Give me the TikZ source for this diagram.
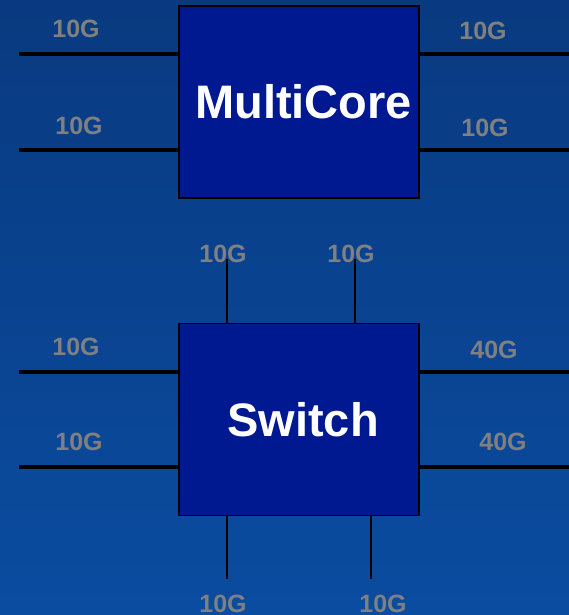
\documentclass[tikz,border=0pt]{standalone}
\usepackage{fontspec}
\setmainfont{Liberation Sans}
\definecolor{bgtop}{RGB}{9,58,128}
\definecolor{bgbot}{RGB}{10,76,160}
\definecolor{boxfill}{RGB}{0,24,144}
\definecolor{lblgray}{RGB}{128,128,128}
\begin{document}
\begin{tikzpicture}[x=1pt,y=-1pt,
  unit/.style={draw=black,line width=1.5pt,fill=boxfill,minimum width=240pt,minimum height=192pt,inner sep=0pt,outer sep=0pt},
  title/.style={text=white,font=\fontsize{47}{47}\selectfont\bfseries,anchor=base,inner sep=0pt},
  lbl/.style={text=lblgray,font=\fontsize{25}{25}\selectfont\bfseries,anchor=base,inner sep=0pt},
  fat/.style={line width=4pt,black},
  thin/.style={line width=1.4pt,black}]
\shade[top color=bgtop,bottom color=bgbot] (0,0) rectangle (569,615);
\useasboundingbox (0,0) rectangle (569,615);
% boxes
\node[unit] (mc) at (299,102) {};
\node[unit] (sw) at (299,419.5) {};
\node[title] (mct) at (303.5,118) {MultiCore};
\node[title] (swt) at (303,436) {Switch};
% multicore connectors
\coordinate (mcl1) at (19,54);
\coordinate (mcl2) at (19,150);
\coordinate (mcr1) at (569,54);
\coordinate (mcr2) at (569,150);
\draw[fat] (mcl1) -- (mcl1 -| mc.west);
\draw[fat] (mcl2) -- (mcl2 -| mc.west);
\draw[fat] (mcr1 -| mc.east) -- (mcr1);
\draw[fat] (mcr2 -| mc.east) -- (mcr2);
% switch connectors
\coordinate (swl1) at (19,372);
\coordinate (swl2) at (19,467);
\coordinate (swr1) at (569,372);
\coordinate (swr2) at (569,467);
\draw[fat] (swl1) -- (swl1 -| sw.west);
\draw[fat] (swl2) -- (swl2 -| sw.west);
\draw[fat] (swr1 -| sw.east) -- (swr1);
\draw[fat] (swr2 -| sw.east) -- (swr2);
\coordinate (swt1) at (227,259);
\coordinate (swt2) at (355,259);
\coordinate (swb1) at (227,579);
\coordinate (swb2) at (371,579);
\draw[thin] (swt1) -- (swt1 |- sw.north);
\draw[thin] (swt2) -- (swt2 |- sw.north);
\draw[thin] (swb1 |- sw.south) -- (swb1);
\draw[thin] (swb2 |- sw.south) -- (swb2);
% labels
\node[lbl] (l1) at (76,38) {10G};
\node[lbl] (l2) at (79,134) {10G};
\node[lbl] (l3) at (483,40) {10G};
\node[lbl] (l4) at (485,136) {10G};
\node[lbl] (l5) at (223,262) {10G};
\node[lbl] (l6) at (351,262) {10G};
\node[lbl] (l7) at (76,355) {10G};
\node[lbl] (l8) at (79,450) {10G};
\node[lbl] (l9) at (494,358) {40G};
\node[lbl] (l10) at (503,450) {40G};
\node[lbl] (l11) at (223,612) {10G};
\node[lbl] (l12) at (383,612) {10G};
\end{tikzpicture}
\end{document}
